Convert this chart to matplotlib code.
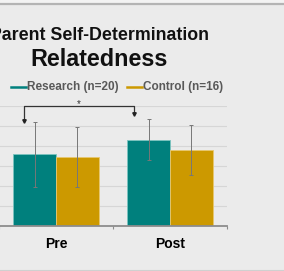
import matplotlib
matplotlib.use("Agg")
import matplotlib.pyplot as plt
from matplotlib.lines import Line2D

categories = ["Pre", "Post"]
research = [3.58, 4.32]
control = [3.45, 3.80]
research_err = [1.61, 1.01]
control_err = [1.52, 1.23]
series_labels = ["Research (n=20)", "Control (n=16)"]

TEAL = "#00807d"
GOLD = "#cc9900"
BG = "#ebebeb"

plt.rcParams['font.family'] = ['Liberation Sans', 'DejaVu Sans']

W, H = 284, 271
fig = plt.figure(figsize=(W / 100, H / 100), dpi=100, facecolor=BG)

# frame lines of the screenshot
fig.add_artist(Line2D([0, 1], [1 - 3.5 / H, 1 - 3.5 / H], transform=fig.transFigure,
                      color="#b4b4b4", lw=1.6))
fig.patches.append(plt.Rectangle((0, 1 - 2.5 / H), 1, 2.5 / H, transform=fig.transFigure,
                                 color="#f3f3f3", zorder=-1))
fig.add_artist(Line2D([0, 1], [1.5 / H, 1.5 / H], transform=fig.transFigure,
                      color="#d0d0d0", lw=0.8))

ax = fig.add_axes([-1 / W, 45 / H, 228 / W, 120 / H])
ax.set_facecolor(BG)

x = list(range(len(categories)))
bw = 0.375
xr = [v - bw / 2 for v in x]
xc = [v + bw / 2 for v in x]
ax.bar(xr, research, bw, color=TEAL, edgecolor="#7cc4c0", linewidth=0.6, zorder=2)
ax.bar(xc, control, bw, color=GOLD, edgecolor="#e8c870", linewidth=0.6, zorder=2)
ax.errorbar(xr, research, yerr=research_err, fmt="none", ecolor="#777777",
            elinewidth=0.7, capsize=1.5, capthick=0.7, zorder=3)
ax.errorbar(xc, control, yerr=control_err, fmt="none", ecolor="#777777",
            elinewidth=0.7, capsize=1.5, capthick=0.7, zorder=3)

ax.set_xlim(-0.5, 1.5)
ax.set_ylim(0, 6)
ax.set_yticks(range(0, 7))
ax.yaxis.grid(True, color="#d6d6d6", lw=0.8, zorder=0)
ax.set_axisbelow(True)
for s in ["top", "right", "left"]:
    ax.spines[s].set_visible(False)
ax.spines["bottom"].set_color("#8c8c8c")
ax.spines["bottom"].set_linewidth(1.3)
ax.tick_params(axis="y", length=0, labelleft=False)
ax.set_xticks(x)
ax.set_xticklabels(categories, fontsize=10, fontweight="bold", color="black")
ax.tick_params(axis="x", length=0, pad=8)
ax.set_xticks([-0.5, 0.5, 1.5], minor=True)
ax.tick_params(axis="x", which="minor", length=2.5, color="#8c8c8c", width=0.8)

# significance bracket
bx0, bx1, by = -0.278, 0.687, 6.0
ax.plot([bx0, bx0, bx1, bx1], [5.25, by, by, 5.6], color="#333333", lw=0.9,
        clip_on=False, zorder=4)
ax.plot([bx0], [5.25], marker="v", ms=2.5, color="#222222", clip_on=False, zorder=4)
ax.plot([bx1], [5.6], marker="v", ms=2.5, color="#222222", clip_on=False, zorder=4)
ax.text(0.20, 5.86, "*", ha="center", va="bottom", fontsize=7, color="#333333")

# titles
fig.text(99 / W, 1 - 35 / H, "Parent Self-Determination", ha="center", va="center",
         fontsize=12.8, fontweight="bold", color="#111111")
fig.text(99 / W, 1 - 60 / H, "Relatedness", ha="center", va="center",
         fontsize=16.8, fontweight="bold", color="#111111")

# legend
ly = 1 - 87 / H
fig.add_artist(Line2D([11 / W, 26 / W], [ly, ly], transform=fig.transFigure,
                      color=TEAL, lw=1.8))
fig.text(27 / W, ly, series_labels[0], ha="left", va="center", fontsize=8.5,
         fontweight="bold", color="#595959")
fig.add_artist(Line2D([127 / W, 142 / W], [ly, ly], transform=fig.transFigure,
                      color=GOLD, lw=1.8))
fig.text(143 / W, ly, series_labels[1], ha="left", va="center", fontsize=8.5,
         fontweight="bold", color="#595959")

fig.savefig("out.png", dpi=100, facecolor=BG)
